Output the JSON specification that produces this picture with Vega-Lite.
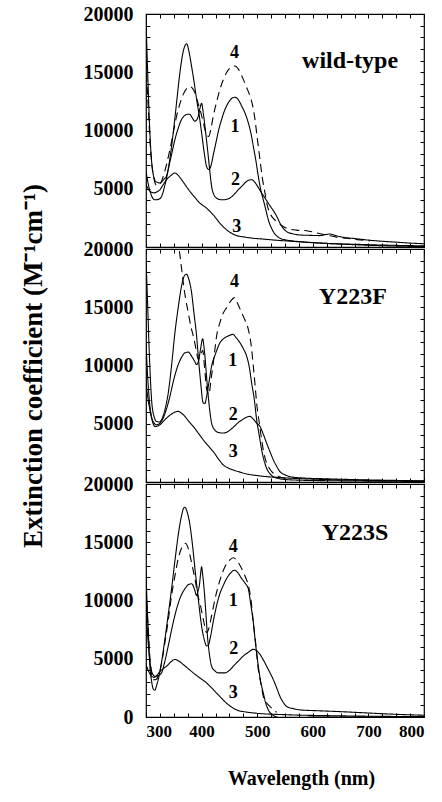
{
"$schema":"https://vega.github.io/schema/vega-lite/v6.json",
"padding":{"left":18,"top":3,"right":5,"bottom":5},
"spacing":2,
"bounds":"flush",
"config":{"view":{"stroke":"black","strokeWidth":1.2},"font":"Liberation Serif",
"axis":{"labelFont":"Liberation Serif","labelFontWeight":"bold","labelColor":"black","domain":false,"grid":false,"tickColor":"black","tickWidth":1,"titleFont":"Liberation Serif","titleFontWeight":"bold","titleColor":"black","labelOverlap":false}},
"datasets":{
"curves":[
{"p":"wild-type","s":"1","x":300,"y":19500},{"p":"wild-type","s":"1","x":303,"y":15000},{"p":"wild-type","s":"1","x":307,"y":9800},{"p":"wild-type","s":"1","x":312,"y":6500},{"p":"wild-type","s":"1","x":318,"y":5600},{"p":"wild-type","s":"1","x":325,"y":5500},{"p":"wild-type","s":"1","x":332,"y":5800},{"p":"wild-type","s":"1","x":337,"y":6100},{"p":"wild-type","s":"1","x":343,"y":7600},{"p":"wild-type","s":"1","x":349,"y":9800},{"p":"wild-type","s":"1","x":355,"y":12400},{"p":"wild-type","s":"1","x":361,"y":14970},{"p":"wild-type","s":"1","x":367,"y":16800},{"p":"wild-type","s":"1","x":373,"y":17450},{"p":"wild-type","s":"1","x":378,"y":16600},{"p":"wild-type","s":"1","x":382,"y":15500},{"p":"wild-type","s":"1","x":387,"y":14000},{"p":"wild-type","s":"1","x":391,"y":12670},{"p":"wild-type","s":"1","x":396,"y":11200},{"p":"wild-type","s":"1","x":400,"y":9800},{"p":"wild-type","s":"1","x":405,"y":8000},{"p":"wild-type","s":"1","x":409,"y":6900},{"p":"wild-type","s":"1","x":413,"y":6650},{"p":"wild-type","s":"1","x":417,"y":7000},{"p":"wild-type","s":"1","x":421,"y":7900},{"p":"wild-type","s":"1","x":426,"y":9000},{"p":"wild-type","s":"1","x":431,"y":10100},{"p":"wild-type","s":"1","x":436,"y":10950},{"p":"wild-type","s":"1","x":442,"y":11800},{"p":"wild-type","s":"1","x":448,"y":12380},{"p":"wild-type","s":"1","x":454,"y":12750},{"p":"wild-type","s":"1","x":460,"y":12850},{"p":"wild-type","s":"1","x":466,"y":12650},{"p":"wild-type","s":"1","x":472,"y":12100},{"p":"wild-type","s":"1","x":478,"y":11500},{"p":"wild-type","s":"1","x":484,"y":10660},{"p":"wild-type","s":"1","x":489,"y":9700},{"p":"wild-type","s":"1","x":493,"y":8650},{"p":"wild-type","s":"1","x":498,"y":7300},{"p":"wild-type","s":"1","x":502,"y":6060},{"p":"wild-type","s":"1","x":506,"y":5000},{"p":"wild-type","s":"1","x":511,"y":4050},{"p":"wild-type","s":"1","x":516,"y":3100},{"p":"wild-type","s":"1","x":520,"y":2330},{"p":"wild-type","s":"1","x":525,"y":1700},{"p":"wild-type","s":"1","x":529,"y":1320},{"p":"wild-type","s":"1","x":535,"y":950},{"p":"wild-type","s":"1","x":541,"y":750},{"p":"wild-type","s":"1","x":550,"y":620},{"p":"wild-type","s":"1","x":559,"y":550},{"p":"wild-type","s":"1","x":580,"y":450},{"p":"wild-type","s":"1","x":600,"y":380},{"p":"wild-type","s":"1","x":650,"y":250},{"p":"wild-type","s":"1","x":700,"y":150},{"p":"wild-type","s":"1","x":750,"y":80},{"p":"wild-type","s":"1","x":800,"y":30},
{"p":"wild-type","s":"4","x":300,"y":16000},{"p":"wild-type","s":"4","x":304,"y":12000},{"p":"wild-type","s":"4","x":308,"y":8500},{"p":"wild-type","s":"4","x":313,"y":6200},{"p":"wild-type","s":"4","x":319,"y":5300},{"p":"wild-type","s":"4","x":325,"y":5400},{"p":"wild-type","s":"4","x":331,"y":6060},{"p":"wild-type","s":"4","x":337,"y":7100},{"p":"wild-type","s":"4","x":343,"y":8360},{"p":"wild-type","s":"4","x":349,"y":9800},{"p":"wild-type","s":"4","x":355,"y":11230},{"p":"wild-type","s":"4","x":361,"y":12300},{"p":"wild-type","s":"4","x":367,"y":13100},{"p":"wild-type","s":"4","x":373,"y":13600},{"p":"wild-type","s":"4","x":379,"y":13760},{"p":"wild-type","s":"4","x":384,"y":13600},{"p":"wild-type","s":"4","x":388,"y":13240},{"p":"wild-type","s":"4","x":392,"y":12600},{"p":"wild-type","s":"4","x":397,"y":11810},{"p":"wild-type","s":"4","x":402,"y":10900},{"p":"wild-type","s":"4","x":406,"y":10080},{"p":"wild-type","s":"4","x":410,"y":9550},{"p":"wild-type","s":"4","x":413,"y":9500},{"p":"wild-type","s":"4","x":417,"y":10200},{"p":"wild-type","s":"4","x":421,"y":11230},{"p":"wild-type","s":"4","x":427,"y":12450},{"p":"wild-type","s":"4","x":433,"y":13530},{"p":"wild-type","s":"4","x":439,"y":14350},{"p":"wild-type","s":"4","x":445,"y":14970},{"p":"wild-type","s":"4","x":452,"y":15400},{"p":"wild-type","s":"4","x":460,"y":15540},{"p":"wild-type","s":"4","x":467,"y":15200},{"p":"wild-type","s":"4","x":475,"y":14390},{"p":"wild-type","s":"4","x":481,"y":13700},{"p":"wild-type","s":"4","x":487,"y":12960},{"p":"wild-type","s":"4","x":492,"y":12100},{"p":"wild-type","s":"4","x":496,"y":10950},{"p":"wild-type","s":"4","x":500,"y":9400},{"p":"wild-type","s":"4","x":505,"y":7500},{"p":"wild-type","s":"4","x":509,"y":6000},{"p":"wild-type","s":"4","x":514,"y":4630},{"p":"wild-type","s":"4","x":518,"y":3600},{"p":"wild-type","s":"4","x":523,"y":2900},{"p":"wild-type","s":"4","x":529,"y":2450},{"p":"wild-type","s":"4","x":535,"y":2180},{"p":"wild-type","s":"4","x":544,"y":1850},{"p":"wild-type","s":"4","x":553,"y":1610},{"p":"wild-type","s":"4","x":570,"y":1450},{"p":"wild-type","s":"4","x":589,"y":1400},{"p":"wild-type","s":"4","x":607,"y":1200},{"p":"wild-type","s":"4","x":625,"y":1030},{"p":"wild-type","s":"4","x":643,"y":850},{"p":"wild-type","s":"4","x":661,"y":750},{"p":"wild-type","s":"4","x":680,"y":630},{"p":"wild-type","s":"4","x":703,"y":520},
{"p":"wild-type","s":"2","x":300,"y":6500},{"p":"wild-type","s":"2","x":305,"y":5200},{"p":"wild-type","s":"2","x":310,"y":4400},{"p":"wild-type","s":"2","x":316,"y":4050},{"p":"wild-type","s":"2","x":323,"y":4100},{"p":"wild-type","s":"2","x":328,"y":4340},{"p":"wild-type","s":"2","x":334,"y":5300},{"p":"wild-type","s":"2","x":340,"y":6640},{"p":"wild-type","s":"2","x":346,"y":7950},{"p":"wild-type","s":"2","x":352,"y":9220},{"p":"wild-type","s":"2","x":358,"y":10200},{"p":"wild-type","s":"2","x":364,"y":10950},{"p":"wild-type","s":"2","x":370,"y":11300},{"p":"wild-type","s":"2","x":376,"y":11400},{"p":"wild-type","s":"2","x":379,"y":11380},{"p":"wild-type","s":"2","x":383,"y":11100},{"p":"wild-type","s":"2","x":388,"y":10800},{"p":"wild-type","s":"2","x":391,"y":10900},{"p":"wild-type","s":"2","x":394,"y":11230},{"p":"wild-type","s":"2","x":397,"y":11900},{"p":"wild-type","s":"2","x":400,"y":12330},{"p":"wild-type","s":"2","x":403,"y":11500},{"p":"wild-type","s":"2","x":406,"y":10370},{"p":"wild-type","s":"2","x":409,"y":9100},{"p":"wild-type","s":"2","x":412,"y":7790},{"p":"wild-type","s":"2","x":415,"y":6400},{"p":"wild-type","s":"2","x":418,"y":5200},{"p":"wild-type","s":"2","x":422,"y":4500},{"p":"wild-type","s":"2","x":427,"y":4200},{"p":"wild-type","s":"2","x":433,"y":4070},{"p":"wild-type","s":"2","x":439,"y":4050},{"p":"wild-type","s":"2","x":445,"y":4100},{"p":"wild-type","s":"2","x":451,"y":4200},{"p":"wild-type","s":"2","x":458,"y":4500},{"p":"wild-type","s":"2","x":466,"y":4910},{"p":"wild-type","s":"2","x":474,"y":5300},{"p":"wild-type","s":"2","x":481,"y":5630},{"p":"wild-type","s":"2","x":486,"y":5750},{"p":"wild-type","s":"2","x":490,"y":5775},{"p":"wild-type","s":"2","x":495,"y":5600},{"p":"wild-type","s":"2","x":499,"y":5340},{"p":"wild-type","s":"2","x":504,"y":4950},{"p":"wild-type","s":"2","x":508,"y":4630},{"p":"wild-type","s":"2","x":514,"y":4200},{"p":"wild-type","s":"2","x":520,"y":3760},{"p":"wild-type","s":"2","x":526,"y":3330},{"p":"wild-type","s":"2","x":532,"y":2900},{"p":"wild-type","s":"2","x":537,"y":2450},{"p":"wild-type","s":"2","x":541,"y":2040},{"p":"wild-type","s":"2","x":547,"y":1600},{"p":"wild-type","s":"2","x":553,"y":1320},{"p":"wild-type","s":"2","x":565,"y":1120},{"p":"wild-type","s":"2","x":577,"y":1030},{"p":"wild-type","s":"2","x":595,"y":1000},{"p":"wild-type","s":"2","x":613,"y":980},{"p":"wild-type","s":"2","x":622,"y":1060},{"p":"wild-type","s":"2","x":631,"y":1120},{"p":"wild-type","s":"2","x":640,"y":1000},{"p":"wild-type","s":"2","x":649,"y":890},{"p":"wild-type","s":"2","x":680,"y":700},{"p":"wild-type","s":"2","x":709,"y":550},{"p":"wild-type","s":"2","x":745,"y":430},{"p":"wild-type","s":"2","x":781,"y":320},{"p":"wild-type","s":"2","x":800,"y":280},
{"p":"wild-type","s":"3","x":300,"y":5400},{"p":"wild-type","s":"3","x":305,"y":4900},{"p":"wild-type","s":"3","x":310,"y":4700},{"p":"wild-type","s":"3","x":315,"y":4650},{"p":"wild-type","s":"3","x":320,"y":4750},{"p":"wild-type","s":"3","x":325,"y":4910},{"p":"wild-type","s":"3","x":331,"y":5350},{"p":"wild-type","s":"3","x":337,"y":5775},{"p":"wild-type","s":"3","x":344,"y":6100},{"p":"wild-type","s":"3","x":352,"y":6350},{"p":"wild-type","s":"3","x":358,"y":6150},{"p":"wild-type","s":"3","x":364,"y":5775},{"p":"wild-type","s":"3","x":371,"y":5300},{"p":"wild-type","s":"3","x":379,"y":4770},{"p":"wild-type","s":"3","x":388,"y":4250},{"p":"wild-type","s":"3","x":397,"y":3760},{"p":"wild-type","s":"3","x":403,"y":3550},{"p":"wild-type","s":"3","x":409,"y":3330},{"p":"wild-type","s":"3","x":415,"y":3050},{"p":"wild-type","s":"3","x":421,"y":2760},{"p":"wild-type","s":"3","x":427,"y":2400},{"p":"wild-type","s":"3","x":433,"y":2040},{"p":"wild-type","s":"3","x":439,"y":1730},{"p":"wild-type","s":"3","x":445,"y":1470},{"p":"wild-type","s":"3","x":454,"y":1180},{"p":"wild-type","s":"3","x":463,"y":980},{"p":"wild-type","s":"3","x":478,"y":850},{"p":"wild-type","s":"3","x":493,"y":750},{"p":"wild-type","s":"3","x":511,"y":680},{"p":"wild-type","s":"3","x":529,"y":600},{"p":"wild-type","s":"3","x":559,"y":500},{"p":"wild-type","s":"3","x":589,"y":400},{"p":"wild-type","s":"3","x":634,"y":290},{"p":"wild-type","s":"3","x":679,"y":230},{"p":"wild-type","s":"3","x":740,"y":150},{"p":"wild-type","s":"3","x":800,"y":100},

{"p":"Y223F","s":"1","x":300,"y":19000},{"p":"Y223F","s":"1","x":302,"y":16550},{"p":"Y223F","s":"1","x":306,"y":11000},{"p":"Y223F","s":"1","x":310,"y":7070},{"p":"Y223F","s":"1","x":314,"y":5700},{"p":"Y223F","s":"1","x":319,"y":5200},{"p":"Y223F","s":"1","x":324,"y":5150},{"p":"Y223F","s":"1","x":328,"y":5340},{"p":"Y223F","s":"1","x":334,"y":6200},{"p":"Y223F","s":"1","x":340,"y":7640},{"p":"Y223F","s":"1","x":346,"y":10000},{"p":"Y223F","s":"1","x":352,"y":12810},{"p":"Y223F","s":"1","x":358,"y":15000},{"p":"Y223F","s":"1","x":364,"y":16840},{"p":"Y223F","s":"1","x":369,"y":17700},{"p":"Y223F","s":"1","x":373,"y":17840},{"p":"Y223F","s":"1","x":377,"y":17400},{"p":"Y223F","s":"1","x":382,"y":16260},{"p":"Y223F","s":"1","x":386,"y":14600},{"p":"Y223F","s":"1","x":391,"y":12530},{"p":"Y223F","s":"1","x":394,"y":10800},{"p":"Y223F","s":"1","x":398,"y":8700},{"p":"Y223F","s":"1","x":403,"y":6780},{"p":"Y223F","s":"1","x":406,"y":6750},{"p":"Y223F","s":"1","x":409,"y":7350},{"p":"Y223F","s":"1","x":413,"y":8500},{"p":"Y223F","s":"1","x":418,"y":9940},{"p":"Y223F","s":"1","x":425,"y":11000},{"p":"Y223F","s":"1","x":433,"y":11950},{"p":"Y223F","s":"1","x":439,"y":12280},{"p":"Y223F","s":"1","x":445,"y":12470},{"p":"Y223F","s":"1","x":451,"y":12600},{"p":"Y223F","s":"1","x":456,"y":12670},{"p":"Y223F","s":"1","x":462,"y":12400},{"p":"Y223F","s":"1","x":469,"y":11950},{"p":"Y223F","s":"1","x":475,"y":11450},{"p":"Y223F","s":"1","x":481,"y":10800},{"p":"Y223F","s":"1","x":486,"y":9800},{"p":"Y223F","s":"1","x":490,"y":8500},{"p":"Y223F","s":"1","x":495,"y":7000},{"p":"Y223F","s":"1","x":499,"y":5340},{"p":"Y223F","s":"1","x":504,"y":3900},{"p":"Y223F","s":"1","x":508,"y":2760},{"p":"Y223F","s":"1","x":512,"y":1900},{"p":"Y223F","s":"1","x":517,"y":1180},{"p":"Y223F","s":"1","x":523,"y":700},{"p":"Y223F","s":"1","x":529,"y":460},{"p":"Y223F","s":"1","x":547,"y":230},{"p":"Y223F","s":"1","x":580,"y":150},{"p":"Y223F","s":"1","x":650,"y":100},{"p":"Y223F","s":"1","x":800,"y":50},
{"p":"Y223F","s":"4","x":352,"y":22000},{"p":"Y223F","s":"4","x":358,"y":20500},{"p":"Y223F","s":"4","x":361,"y":19500},{"p":"Y223F","s":"4","x":364,"y":18300},{"p":"Y223F","s":"4","x":367,"y":17120},{"p":"Y223F","s":"4","x":371,"y":15800},{"p":"Y223F","s":"4","x":376,"y":14540},{"p":"Y223F","s":"4","x":380,"y":13500},{"p":"Y223F","s":"4","x":385,"y":12530},{"p":"Y223F","s":"4","x":390,"y":11400},{"p":"Y223F","s":"4","x":394,"y":10520},{"p":"Y223F","s":"4","x":398,"y":10900},{"p":"Y223F","s":"4","x":402,"y":11300},{"p":"Y223F","s":"4","x":405,"y":10000},{"p":"Y223F","s":"4","x":409,"y":8000},{"p":"Y223F","s":"4","x":413,"y":7500},{"p":"Y223F","s":"4","x":417,"y":8800},{"p":"Y223F","s":"4","x":422,"y":10600},{"p":"Y223F","s":"4","x":427,"y":12530},{"p":"Y223F","s":"4","x":433,"y":13700},{"p":"Y223F","s":"4","x":439,"y":14500},{"p":"Y223F","s":"4","x":445,"y":14970},{"p":"Y223F","s":"4","x":452,"y":15500},{"p":"Y223F","s":"4","x":459,"y":15830},{"p":"Y223F","s":"4","x":465,"y":15300},{"p":"Y223F","s":"4","x":472,"y":14540},{"p":"Y223F","s":"4","x":478,"y":13900},{"p":"Y223F","s":"4","x":484,"y":13100},{"p":"Y223F","s":"4","x":489,"y":11800},{"p":"Y223F","s":"4","x":493,"y":9940},{"p":"Y223F","s":"4","x":496,"y":8400},{"p":"Y223F","s":"4","x":499,"y":6780},{"p":"Y223F","s":"4","x":504,"y":5000},{"p":"Y223F","s":"4","x":508,"y":3620},{"p":"Y223F","s":"4","x":512,"y":2500},{"p":"Y223F","s":"4","x":517,"y":1610},{"p":"Y223F","s":"4","x":523,"y":1100},{"p":"Y223F","s":"4","x":529,"y":750},{"p":"Y223F","s":"4","x":540,"y":450},{"p":"Y223F","s":"4","x":560,"y":250},
{"p":"Y223F","s":"2","x":300,"y":12000},{"p":"Y223F","s":"2","x":303,"y":9000},{"p":"Y223F","s":"2","x":306,"y":7000},{"p":"Y223F","s":"2","x":310,"y":5600},{"p":"Y223F","s":"2","x":314,"y":5100},{"p":"Y223F","s":"2","x":319,"y":4910},{"p":"Y223F","s":"2","x":325,"y":5050},{"p":"Y223F","s":"2","x":331,"y":5490},{"p":"Y223F","s":"2","x":337,"y":6300},{"p":"Y223F","s":"2","x":343,"y":7350},{"p":"Y223F","s":"2","x":350,"y":8800},{"p":"Y223F","s":"2","x":358,"y":10080},{"p":"Y223F","s":"2","x":364,"y":10700},{"p":"Y223F","s":"2","x":370,"y":11090},{"p":"Y223F","s":"2","x":376,"y":11150},{"p":"Y223F","s":"2","x":382,"y":10800},{"p":"Y223F","s":"2","x":387,"y":10400},{"p":"Y223F","s":"2","x":391,"y":10080},{"p":"Y223F","s":"2","x":395,"y":10500},{"p":"Y223F","s":"2","x":398,"y":11380},{"p":"Y223F","s":"2","x":402,"y":12300},{"p":"Y223F","s":"2","x":404,"y":11700},{"p":"Y223F","s":"2","x":406,"y":10800},{"p":"Y223F","s":"2","x":409,"y":9000},{"p":"Y223F","s":"2","x":412,"y":7350},{"p":"Y223F","s":"2","x":415,"y":6000},{"p":"Y223F","s":"2","x":418,"y":5060},{"p":"Y223F","s":"2","x":423,"y":4500},{"p":"Y223F","s":"2","x":430,"y":4250},{"p":"Y223F","s":"2","x":439,"y":4200},{"p":"Y223F","s":"2","x":448,"y":4350},{"p":"Y223F","s":"2","x":457,"y":4700},{"p":"Y223F","s":"2","x":466,"y":5100},{"p":"Y223F","s":"2","x":475,"y":5400},{"p":"Y223F","s":"2","x":481,"y":5560},{"p":"Y223F","s":"2","x":487,"y":5630},{"p":"Y223F","s":"2","x":493,"y":5400},{"p":"Y223F","s":"2","x":499,"y":5050},{"p":"Y223F","s":"2","x":505,"y":4770},{"p":"Y223F","s":"2","x":511,"y":4100},{"p":"Y223F","s":"2","x":517,"y":3330},{"p":"Y223F","s":"2","x":523,"y":2600},{"p":"Y223F","s":"2","x":529,"y":1900},{"p":"Y223F","s":"2","x":535,"y":1350},{"p":"Y223F","s":"2","x":541,"y":890},{"p":"Y223F","s":"2","x":550,"y":620},{"p":"Y223F","s":"2","x":559,"y":460},{"p":"Y223F","s":"2","x":580,"y":350},{"p":"Y223F","s":"2","x":620,"y":280},{"p":"Y223F","s":"2","x":700,"y":180},{"p":"Y223F","s":"2","x":800,"y":100},
{"p":"Y223F","s":"3","x":300,"y":8500},{"p":"Y223F","s":"3","x":304,"y":7000},{"p":"Y223F","s":"3","x":307,"y":6200},{"p":"Y223F","s":"3","x":311,"y":5300},{"p":"Y223F","s":"3","x":316,"y":4770},{"p":"Y223F","s":"3","x":321,"y":4800},{"p":"Y223F","s":"3","x":325,"y":4910},{"p":"Y223F","s":"3","x":331,"y":5200},{"p":"Y223F","s":"3","x":337,"y":5490},{"p":"Y223F","s":"3","x":345,"y":5800},{"p":"Y223F","s":"3","x":352,"y":6000},{"p":"Y223F","s":"3","x":358,"y":6060},{"p":"Y223F","s":"3","x":364,"y":5900},{"p":"Y223F","s":"3","x":370,"y":5630},{"p":"Y223F","s":"3","x":377,"y":5200},{"p":"Y223F","s":"3","x":385,"y":4770},{"p":"Y223F","s":"3","x":394,"y":4200},{"p":"Y223F","s":"3","x":403,"y":3620},{"p":"Y223F","s":"3","x":412,"y":3100},{"p":"Y223F","s":"3","x":421,"y":2610},{"p":"Y223F","s":"3","x":430,"y":2000},{"p":"Y223F","s":"3","x":439,"y":1470},{"p":"Y223F","s":"3","x":448,"y":1200},{"p":"Y223F","s":"3","x":457,"y":1030},{"p":"Y223F","s":"3","x":469,"y":850},{"p":"Y223F","s":"3","x":481,"y":690},{"p":"Y223F","s":"3","x":499,"y":560},{"p":"Y223F","s":"3","x":517,"y":460},{"p":"Y223F","s":"3","x":547,"y":360},{"p":"Y223F","s":"3","x":577,"y":290},{"p":"Y223F","s":"3","x":650,"y":180},{"p":"Y223F","s":"3","x":720,"y":120},{"p":"Y223F","s":"3","x":800,"y":80},

{"p":"Y223S","s":"1","x":300,"y":12500},{"p":"Y223S","s":"1","x":301,"y":11000},{"p":"Y223S","s":"1","x":304,"y":7500},{"p":"Y223S","s":"1","x":307,"y":4360},{"p":"Y223S","s":"1","x":310,"y":3100},{"p":"Y223S","s":"1","x":313,"y":2400},{"p":"Y223S","s":"1","x":316,"y":2300},{"p":"Y223S","s":"1","x":319,"y":2700},{"p":"Y223S","s":"1","x":322,"y":3210},{"p":"Y223S","s":"1","x":328,"y":4700},{"p":"Y223S","s":"1","x":334,"y":6680},{"p":"Y223S","s":"1","x":340,"y":8800},{"p":"Y223S","s":"1","x":346,"y":11010},{"p":"Y223S","s":"1","x":352,"y":13400},{"p":"Y223S","s":"1","x":358,"y":15630},{"p":"Y223S","s":"1","x":364,"y":17300},{"p":"Y223S","s":"1","x":368,"y":17950},{"p":"Y223S","s":"1","x":370,"y":18000},{"p":"Y223S","s":"1","x":374,"y":17600},{"p":"Y223S","s":"1","x":379,"y":16500},{"p":"Y223S","s":"1","x":384,"y":14600},{"p":"Y223S","s":"1","x":388,"y":12740},{"p":"Y223S","s":"1","x":392,"y":11000},{"p":"Y223S","s":"1","x":396,"y":9300},{"p":"Y223S","s":"1","x":400,"y":7800},{"p":"Y223S","s":"1","x":405,"y":6600},{"p":"Y223S","s":"1","x":409,"y":6100},{"p":"Y223S","s":"1","x":412,"y":6150},{"p":"Y223S","s":"1","x":416,"y":6900},{"p":"Y223S","s":"1","x":421,"y":8200},{"p":"Y223S","s":"1","x":427,"y":9570},{"p":"Y223S","s":"1","x":433,"y":10600},{"p":"Y223S","s":"1","x":439,"y":11300},{"p":"Y223S","s":"1","x":445,"y":11880},{"p":"Y223S","s":"1","x":452,"y":12350},{"p":"Y223S","s":"1","x":459,"y":12600},{"p":"Y223S","s":"1","x":465,"y":12400},{"p":"Y223S","s":"1","x":472,"y":11880},{"p":"Y223S","s":"1","x":478,"y":11500},{"p":"Y223S","s":"1","x":484,"y":11010},{"p":"Y223S","s":"1","x":488,"y":9800},{"p":"Y223S","s":"1","x":493,"y":8120},{"p":"Y223S","s":"1","x":497,"y":6300},{"p":"Y223S","s":"1","x":502,"y":4360},{"p":"Y223S","s":"1","x":506,"y":3100},{"p":"Y223S","s":"1","x":511,"y":2050},{"p":"Y223S","s":"1","x":515,"y":1250},{"p":"Y223S","s":"1","x":520,"y":610},{"p":"Y223S","s":"1","x":527,"y":200},{"p":"Y223S","s":"1","x":535,"y":0},{"p":"Y223S","s":"1","x":545,"y":-150},{"p":"Y223S","s":"1","x":560,"y":-200},{"p":"Y223S","s":"1","x":580,"y":-100},{"p":"Y223S","s":"1","x":600,"y":0},{"p":"Y223S","s":"1","x":700,"y":0},{"p":"Y223S","s":"1","x":800,"y":0},
{"p":"Y223S","s":"4","x":300,"y":11000},{"p":"Y223S","s":"4","x":304,"y":7500},{"p":"Y223S","s":"4","x":308,"y":4500},{"p":"Y223S","s":"4","x":313,"y":3210},{"p":"Y223S","s":"4","x":317,"y":3200},{"p":"Y223S","s":"4","x":322,"y":3500},{"p":"Y223S","s":"4","x":328,"y":4600},{"p":"Y223S","s":"4","x":334,"y":6390},{"p":"Y223S","s":"4","x":340,"y":8300},{"p":"Y223S","s":"4","x":346,"y":10430},{"p":"Y223S","s":"4","x":352,"y":12100},{"p":"Y223S","s":"4","x":358,"y":13610},{"p":"Y223S","s":"4","x":364,"y":14500},{"p":"Y223S","s":"4","x":371,"y":14910},{"p":"Y223S","s":"4","x":375,"y":14600},{"p":"Y223S","s":"4","x":379,"y":13900},{"p":"Y223S","s":"4","x":383,"y":13000},{"p":"Y223S","s":"4","x":388,"y":11880},{"p":"Y223S","s":"4","x":393,"y":10500},{"p":"Y223S","s":"4","x":398,"y":9570},{"p":"Y223S","s":"4","x":403,"y":8400},{"p":"Y223S","s":"4","x":409,"y":7250},{"p":"Y223S","s":"4","x":413,"y":7600},{"p":"Y223S","s":"4","x":418,"y":8700},{"p":"Y223S","s":"4","x":427,"y":10720},{"p":"Y223S","s":"4","x":434,"y":11900},{"p":"Y223S","s":"4","x":442,"y":12890},{"p":"Y223S","s":"4","x":450,"y":13450},{"p":"Y223S","s":"4","x":457,"y":13670},{"p":"Y223S","s":"4","x":464,"y":13400},{"p":"Y223S","s":"4","x":472,"y":12740},{"p":"Y223S","s":"4","x":478,"y":12100},{"p":"Y223S","s":"4","x":484,"y":11300},{"p":"Y223S","s":"4","x":489,"y":10000},{"p":"Y223S","s":"4","x":493,"y":8120},{"p":"Y223S","s":"4","x":498,"y":6000},{"p":"Y223S","s":"4","x":502,"y":4070},{"p":"Y223S","s":"4","x":507,"y":2800},{"p":"Y223S","s":"4","x":511,"y":1760},{"p":"Y223S","s":"4","x":517,"y":1200},{"p":"Y223S","s":"4","x":523,"y":900},{"p":"Y223S","s":"4","x":529,"y":600},{"p":"Y223S","s":"4","x":535,"y":400},
{"p":"Y223S","s":"2","x":300,"y":9500},{"p":"Y223S","s":"2","x":303,"y":7000},{"p":"Y223S","s":"2","x":307,"y":4800},{"p":"Y223S","s":"2","x":311,"y":3800},{"p":"Y223S","s":"2","x":316,"y":3500},{"p":"Y223S","s":"2","x":322,"y":3550},{"p":"Y223S","s":"2","x":328,"y":3790},{"p":"Y223S","s":"2","x":334,"y":4800},{"p":"Y223S","s":"2","x":340,"y":6100},{"p":"Y223S","s":"2","x":347,"y":7700},{"p":"Y223S","s":"2","x":355,"y":9280},{"p":"Y223S","s":"2","x":362,"y":10300},{"p":"Y223S","s":"2","x":370,"y":11010},{"p":"Y223S","s":"2","x":376,"y":11350},{"p":"Y223S","s":"2","x":382,"y":11440},{"p":"Y223S","s":"2","x":387,"y":11000},{"p":"Y223S","s":"2","x":391,"y":10430},{"p":"Y223S","s":"2","x":394,"y":10900},{"p":"Y223S","s":"2","x":396,"y":11300},{"p":"Y223S","s":"2","x":398,"y":12200},{"p":"Y223S","s":"2","x":400,"y":12890},{"p":"Y223S","s":"2","x":402,"y":12200},{"p":"Y223S","s":"2","x":405,"y":10720},{"p":"Y223S","s":"2","x":408,"y":8700},{"p":"Y223S","s":"2","x":411,"y":6680},{"p":"Y223S","s":"2","x":414,"y":5400},{"p":"Y223S","s":"2","x":418,"y":4360},{"p":"Y223S","s":"2","x":424,"y":3950},{"p":"Y223S","s":"2","x":430,"y":3790},{"p":"Y223S","s":"2","x":442,"y":3790},{"p":"Y223S","s":"2","x":450,"y":4000},{"p":"Y223S","s":"2","x":457,"y":4360},{"p":"Y223S","s":"2","x":466,"y":4800},{"p":"Y223S","s":"2","x":475,"y":5230},{"p":"Y223S","s":"2","x":484,"y":5550},{"p":"Y223S","s":"2","x":493,"y":5810},{"p":"Y223S","s":"2","x":499,"y":5700},{"p":"Y223S","s":"2","x":505,"y":5380},{"p":"Y223S","s":"2","x":511,"y":4900},{"p":"Y223S","s":"2","x":517,"y":4360},{"p":"Y223S","s":"2","x":523,"y":3800},{"p":"Y223S","s":"2","x":529,"y":3210},{"p":"Y223S","s":"2","x":535,"y":2500},{"p":"Y223S","s":"2","x":541,"y":1760},{"p":"Y223S","s":"2","x":547,"y":1250},{"p":"Y223S","s":"2","x":553,"y":900},{"p":"Y223S","s":"2","x":565,"y":720},{"p":"Y223S","s":"2","x":577,"y":610},{"p":"Y223S","s":"2","x":613,"y":530},{"p":"Y223S","s":"2","x":649,"y":460},{"p":"Y223S","s":"2","x":680,"y":390},{"p":"Y223S","s":"2","x":709,"y":320},{"p":"Y223S","s":"2","x":750,"y":230},{"p":"Y223S","s":"2","x":800,"y":150},
{"p":"Y223S","s":"3","x":300,"y":4500},{"p":"Y223S","s":"3","x":305,"y":3900},{"p":"Y223S","s":"3","x":310,"y":3500},{"p":"Y223S","s":"3","x":315,"y":3400},{"p":"Y223S","s":"3","x":320,"y":3600},{"p":"Y223S","s":"3","x":325,"y":3900},{"p":"Y223S","s":"3","x":331,"y":4150},{"p":"Y223S","s":"3","x":337,"y":4360},{"p":"Y223S","s":"3","x":344,"y":4700},{"p":"Y223S","s":"3","x":352,"y":4940},{"p":"Y223S","s":"3","x":359,"y":4800},{"p":"Y223S","s":"3","x":367,"y":4510},{"p":"Y223S","s":"3","x":376,"y":4150},{"p":"Y223S","s":"3","x":385,"y":3790},{"p":"Y223S","s":"3","x":397,"y":3350},{"p":"Y223S","s":"3","x":409,"y":2920},{"p":"Y223S","s":"3","x":418,"y":2500},{"p":"Y223S","s":"3","x":427,"y":2050},{"p":"Y223S","s":"3","x":436,"y":1600},{"p":"Y223S","s":"3","x":445,"y":1180},{"p":"Y223S","s":"3","x":454,"y":850},{"p":"Y223S","s":"3","x":463,"y":610},{"p":"Y223S","s":"3","x":481,"y":420},{"p":"Y223S","s":"3","x":499,"y":320},{"p":"Y223S","s":"3","x":550,"y":200},{"p":"Y223S","s":"3","x":650,"y":100},{"p":"Y223S","s":"3","x":800,"y":30}
],
"labels":[
{"p":"wild-type","t":"4","x":459,"y":16610},{"p":"wild-type","t":"1","x":460,"y":10280},{"p":"wild-type","t":"2","x":461,"y":5775},{"p":"wild-type","t":"3","x":463,"y":1750},
{"p":"Y223F","t":"4","x":459,"y":17130},{"p":"Y223F","t":"1","x":456,"y":10370},{"p":"Y223F","t":"2","x":457,"y":5775},{"p":"Y223F","t":"3","x":457,"y":2610},
{"p":"Y223S","t":"4","x":457,"y":14610},{"p":"Y223S","t":"1","x":457,"y":9990},{"p":"Y223S","t":"2","x":458,"y":5800},{"p":"Y223S","t":"3","x":457,"y":2050}
],
"names":[{"p":"wild-type","x":667,"y":15950},{"p":"Y223F","x":672,"y":15860},{"p":"Y223S","x":676,"y":15760}]
},
"vconcat":[
{"width":278,"height":233,
"layer":[
{"data":{"name":"curves"},"transform":[{"filter":"datum.p==='wild-type'"}],"mark":{"type":"line","interpolate":"monotone","clip":true,"strokeWidth":1.1,"color":"black"},
"encoding":{"x":{"field":"x","type":"quantitative","scale":{"domain":[300,800],"nice":false,"zero":false},"axis":{"orient":"bottom","values":[300,325,350,375,400,425,450,475,500,525,550,575,600,625,650,675,700,725,750,775,800],"labels":false,"title":null,"tickSize":-4}},
"y":{"field":"y","type":"quantitative","scale":{"domain":[0,20000],"nice":false},"axis":{"orient":"left","values":[0,1000,2000,3000,4000,5000,6000,7000,8000,9000,10000,11000,12000,13000,14000,15000,16000,17000,18000,19000,20000],"labelExpr":"datum.value % 5000 === 0 && datum.value > 0 ? datum.label : ''","format":"d","labelFontSize":20,"labelPadding":17,"tickSize":-4,"title":null}},
"detail":{"field":"s"},
"strokeDash":{"field":"s","type":"nominal","scale":{"domain":["1","2","3","4"],"range":[[1,0],[1,0],[1,0],[8,5]]},"legend":null}}},
{"data":{"name":"curves"},"transform":[{"filter":"datum.p==='wild-type'"}],"mark":{"type":"point","opacity":0,"clip":true},
"encoding":{"x":{"field":"x","type":"quantitative","axis":{"orient":"top","values":[300,325,350,375,400,425,450,475,500,525,550,575,600,625,650,675,700,725,750,775,800],"labels":false,"title":null,"tickSize":-4}},
"y":{"field":"y","type":"quantitative","axis":{"orient":"right","values":[0,1000,2000,3000,4000,5000,6000,7000,8000,9000,10000,11000,12000,13000,14000,15000,16000,17000,18000,19000,20000],"labels":false,"title":null,"tickSize":-4}}}},
{"data":{"name":"labels"},"transform":[{"filter":"datum.p==='wild-type'"}],"mark":{"type":"text","font":"Liberation Serif","fontWeight":"bold","fontSize":18,"color":"black"},
"encoding":{"x":{"field":"x","type":"quantitative","axis":null},"y":{"field":"y","type":"quantitative","axis":null},"text":{"field":"t"}}},
{"data":{"name":"names"},"transform":[{"filter":"datum.p==='wild-type'"}],"mark":{"type":"text","font":"Liberation Serif","fontWeight":"bold","fontSize":24,"color":"black"},
"encoding":{"x":{"field":"x","type":"quantitative","axis":null},"y":{"field":"y","type":"quantitative","axis":null},"text":{"field":"p"}}}
],
"resolve":{"axis":{"x":"independent","y":"independent"}}},
{"width":278,"height":233,
"layer":[
{"data":{"name":"curves"},"transform":[{"filter":"datum.p==='Y223F'"}],"mark":{"type":"line","interpolate":"monotone","clip":true,"strokeWidth":1.1,"color":"black"},
"encoding":{"x":{"field":"x","type":"quantitative","scale":{"domain":[300,800],"nice":false,"zero":false},"axis":{"orient":"bottom","values":[300,325,350,375,400,425,450,475,500,525,550,575,600,625,650,675,700,725,750,775,800],"labels":false,"title":null,"tickSize":-4}},
"y":{"field":"y","type":"quantitative","scale":{"domain":[0,20000],"nice":false},"axis":{"orient":"left","values":[0,1000,2000,3000,4000,5000,6000,7000,8000,9000,10000,11000,12000,13000,14000,15000,16000,17000,18000,19000,20000],"labelExpr":"datum.value % 5000 === 0 && datum.value > 0 ? datum.label : ''","format":"d","labelFontSize":20,"labelPadding":17,"tickSize":-4,"title":"Extinction coefficient (M⁻¹cm⁻¹)","titleFontSize":27,"titlePadding":36}},
"detail":{"field":"s"},
"strokeDash":{"field":"s","type":"nominal","scale":{"domain":["1","2","3","4"],"range":[[1,0],[1,0],[1,0],[8,5]]},"legend":null}}},
{"data":{"name":"curves"},"transform":[{"filter":"datum.p==='Y223F'"}],"mark":{"type":"point","opacity":0,"clip":true},
"encoding":{"x":{"field":"x","type":"quantitative","axis":{"orient":"top","values":[300,325,350,375,400,425,450,475,500,525,550,575,600,625,650,675,700,725,750,775,800],"labels":false,"title":null,"tickSize":-4}},
"y":{"field":"y","type":"quantitative","axis":{"orient":"right","values":[0,1000,2000,3000,4000,5000,6000,7000,8000,9000,10000,11000,12000,13000,14000,15000,16000,17000,18000,19000,20000],"labels":false,"title":null,"tickSize":-4}}}},
{"data":{"name":"labels"},"transform":[{"filter":"datum.p==='Y223F'"}],"mark":{"type":"text","font":"Liberation Serif","fontWeight":"bold","fontSize":18,"color":"black"},
"encoding":{"x":{"field":"x","type":"quantitative","axis":null},"y":{"field":"y","type":"quantitative","axis":null},"text":{"field":"t"}}},
{"data":{"name":"names"},"transform":[{"filter":"datum.p==='Y223F'"}],"mark":{"type":"text","font":"Liberation Serif","fontWeight":"bold","fontSize":24,"color":"black"},
"encoding":{"x":{"field":"x","type":"quantitative","axis":null},"y":{"field":"y","type":"quantitative","axis":null},"text":{"field":"p"}}}
],
"resolve":{"axis":{"x":"independent","y":"independent"}}},
{"width":278,"height":233,
"layer":[
{"data":{"name":"curves"},"transform":[{"filter":"datum.p==='Y223S'"}],"mark":{"type":"line","interpolate":"monotone","clip":true,"strokeWidth":1.1,"color":"black"},
"encoding":{"x":{"field":"x","type":"quantitative","scale":{"domain":[300,800],"nice":false,"zero":false},"axis":{"orient":"bottom","values":[300,325,350,375,400,425,450,475,500,525,550,575,600,625,650,675,700,725,750,775,800],"labelExpr":"datum.value % 100 === 0 ? datum.label : ''","format":"d","labelFontSize":17,"labelPadding":10,"tickSize":-4,"title":"Wavelength (nm)","titleFontSize":20,"titlePadding":29,"titleX":155}},
"y":{"field":"y","type":"quantitative","scale":{"domain":[0,20000],"nice":false},"axis":{"orient":"left","values":[0,1000,2000,3000,4000,5000,6000,7000,8000,9000,10000,11000,12000,13000,14000,15000,16000,17000,18000,19000,20000],"labelExpr":"datum.value % 5000 === 0 ? datum.label : ''","format":"d","labelFontSize":20,"labelPadding":17,"tickSize":-4,"title":null}},
"detail":{"field":"s"},
"strokeDash":{"field":"s","type":"nominal","scale":{"domain":["1","2","3","4"],"range":[[1,0],[1,0],[1,0],[8,5]]},"legend":null}}},
{"data":{"name":"curves"},"transform":[{"filter":"datum.p==='Y223S'"}],"mark":{"type":"point","opacity":0,"clip":true},
"encoding":{"x":{"field":"x","type":"quantitative","axis":{"orient":"top","values":[300,325,350,375,400,425,450,475,500,525,550,575,600,625,650,675,700,725,750,775,800],"labels":false,"title":null,"tickSize":-4}},
"y":{"field":"y","type":"quantitative","axis":{"orient":"right","values":[0,1000,2000,3000,4000,5000,6000,7000,8000,9000,10000,11000,12000,13000,14000,15000,16000,17000,18000,19000,20000],"labels":false,"title":null,"tickSize":-4}}}},
{"data":{"name":"labels"},"transform":[{"filter":"datum.p==='Y223S'"}],"mark":{"type":"text","font":"Liberation Serif","fontWeight":"bold","fontSize":18,"color":"black"},
"encoding":{"x":{"field":"x","type":"quantitative","axis":null},"y":{"field":"y","type":"quantitative","axis":null},"text":{"field":"t"}}},
{"data":{"name":"names"},"transform":[{"filter":"datum.p==='Y223S'"}],"mark":{"type":"text","font":"Liberation Serif","fontWeight":"bold","fontSize":24,"color":"black"},
"encoding":{"x":{"field":"x","type":"quantitative","axis":null},"y":{"field":"y","type":"quantitative","axis":null},"text":{"field":"p"}}}
],
"resolve":{"axis":{"x":"independent","y":"independent"}}}
]
}
